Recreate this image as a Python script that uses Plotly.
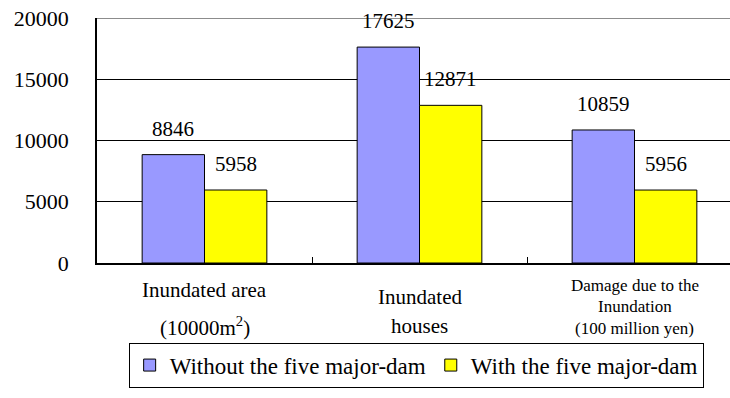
import plotly.graph_objects as go

# ---- data ----
categories = [
    ["Inundated area", "(10000m<sup>2</sup>)"],
    ["Inundated", "houses"],
    ["Damage due to the", "Inundation", "(100 million yen)"],
]
series_names = ["Without the five major-dam", "With the five major-dam"]
without_dam = [8846, 17625, 10859]
with_dam = [5958, 12871, 5956]
y_ticks = [0, 5000, 10000, 15000, 20000]

# ---- style ----
FONT = "Liberation Serif"
colors = ["#9999FF", "#FFFF00"]
BARGAP = 0.42
label_offsets = [[27, 63], [34, 63], [22, 43, 65]]
label_sizes = [[21, 21], [21, 21], [17, 17, 17]]

x_idx = list(range(len(categories)))
fig = go.Figure()
for name, vals, col in zip(series_names, [without_dam, with_dam], colors):
    fig.add_trace(go.Bar(
        x=x_idx, y=vals, name=name,
        marker=dict(color=col, line=dict(color="black", width=1)),
        hoverinfo="skip",
    ))

bar_w = (1 - BARGAP) / 2
annotations = []
for s, vals in enumerate([without_dam, with_dam]):
    off = (s - 0.5) * bar_w
    for i, v in enumerate(vals):
        annotations.append(dict(
            x=i + off, y=v, xref="x", yref="y", text=str(v), showarrow=False,
            yanchor="bottom", yshift=12, font=dict(size=21, color="black", family=FONT),
        ))
for i, lines in enumerate(categories):
    for line, offs, sz in zip(lines, label_offsets[i], label_sizes[i]):
        annotations.append(dict(
            x=i, y=0, xref="x", yref="paper", text=line, showarrow=False,
            yanchor="middle", yshift=-offs, font=dict(size=sz, color="black", family=FONT),
        ))

fig.update_layout(
    width=730, height=398,
    margin=dict(l=97, r=0, t=18, b=135),
    paper_bgcolor="white", plot_bgcolor="white",
    barmode="group", bargap=BARGAP, bargroupgap=0,
    showlegend=True,
    legend=dict(
        orientation="h", x=0.05, xanchor="left", y=-0.325, yanchor="top",
        bordercolor="black", borderwidth=1, font=dict(size=23, family=FONT, color="black"),
        itemclick=False, tracegroupgap=0, itemwidth=30,
    ),
    annotations=annotations,
    xaxis=dict(
        range=[-0.5, -0.5 + 633 / 215], tickvals=[0.5, 1.5], showticklabels=False,
        ticks="inside", ticklen=6, tickcolor="black",
        showline=True, linecolor="black", linewidth=1.5, showgrid=False, zeroline=False,
    ),
    yaxis=dict(
        range=[0, max(y_ticks)], tickvals=y_ticks, ticktext=[str(v) for v in y_ticks], ticks="",
        showline=True, linecolor="black", linewidth=1.5,
        showgrid=True, gridcolor="black", gridwidth=1, zeroline=False,
        ticklabelstandoff=22, tickfont=dict(size=22, family=FONT, color="black"),
    ),
    shapes=[dict(type="line", xref="paper", yref="y", x0=0, x1=1,
                 y0=max(y_ticks), y1=max(y_ticks),
                 line=dict(color="#8c8c8c", width=2), layer="above")],
)

fig.write_html("out.html")
